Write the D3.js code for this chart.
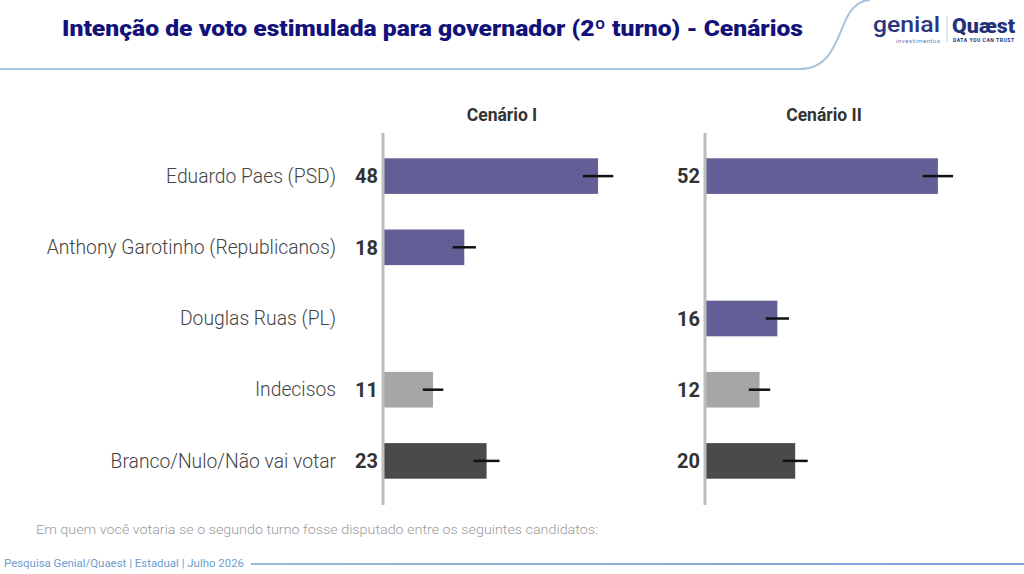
<!DOCTYPE html>
<html>
<head>
<meta charset="utf-8">
<script src="https://cdn.jsdelivr.net/npm/d3@7"></script>
<style>
  body { margin: 0; background: #fff; }
  svg { display: block; font-family: Roboto, sans-serif; }
</style>
</head>
<body>
<svg id="chart" width="1024" height="574"></svg>
<script>
// data
const categories = ['Eduardo Paes (PSD)', 'Anthony Garotinho (Republicanos)', 'Douglas Ruas (PL)', 'Indecisos', 'Branco/Nulo/Não vai votar'];
const barColors = ['#625e96', '#625e96', '#625e96', '#a6a6a6', '#4a4a4a'];
const scenarios = ['Cenário I', 'Cenário II'];
const valuesI = [48, 18, null, 11, 23];
const valuesII = [52, null, 16, 12, 20];
const errorsI = [3.4, 2.6, null, 2.3, 2.9];
const errorsII = [3.4, null, 2.6, 2.4, 2.8];

const svg = d3.select('#chart');

// header
svg.append('text')
  .attr('x', 62).attr('y', 36)
  .attr('font-size', 22).attr('font-weight', 900)
  .attr('fill', '#12127a')
  .attr('textLength', 741).attr('lengthAdjust', 'spacingAndGlyphs')
  .text('Intenção de voto estimulada para governador (2º turno) - Cenários');

svg.append('path')
  .attr('d', 'M0,69 L800,69 C835,69 838,30 850,12 C856,4 862,0 870,0')
  .attr('fill', 'none').attr('stroke', '#a8c2da').attr('stroke-width', 2);

// logo
const logo = svg.append('g');
logo.append('text').attr('x', 873).attr('y', 32)
  .attr('font-size', 22).attr('font-weight', 500).attr('fill', '#2a3680')
  .attr('textLength', 67).attr('lengthAdjust', 'spacingAndGlyphs').text('genial');
logo.append('text').attr('x', 896).attr('y', 43)
  .attr('font-size', 6).attr('fill', '#6a7bb0')
  .attr('textLength', 44).text('investimentos');
logo.append('line').attr('x1', 947).attr('x2', 947).attr('y1', 16).attr('y2', 42)
  .attr('stroke', '#c8cde0').attr('stroke-width', 1);
logo.append('text').attr('x', 952).attr('y', 33)
  .attr('font-size', 20).attr('font-weight', 900).attr('fill', '#23307a')
  .attr('textLength', 63).attr('lengthAdjust', 'spacingAndGlyphs').text('Quæst');
logo.append('text').attr('x', 953).attr('y', 42)
  .attr('font-size', 5).attr('font-weight', 700).attr('fill', '#23307a')
  .attr('textLength', 61).text('DATA YOU CAN TRUST');

// scales
const y = d3.scaleBand().domain(categories).range([140.5, 496.5]).paddingInner(0.5).paddingOuter(0.25);
const x = d3.scaleLinear().domain([0, 100]).range([0, 446]);

// category labels
svg.append('g').selectAll('text').data(categories).join('text')
  .attr('x', 336).attr('y', d => y(d) + y.bandwidth() / 2)
  .attr('dy', '0.35em').attr('text-anchor', 'end')
  .attr('font-size', 19.3).attr('font-weight', 300).attr('fill', '#444')
  .text(d => d);

const panels = [
  { name: scenarios[0], x0: 384, values: valuesI, errors: errorsI },
  { name: scenarios[1], x0: 706, values: valuesII, errors: errorsII }
];

panels.forEach(p => {
  const g = svg.append('g').attr('transform', `translate(${p.x0},0)`);
  const rows = categories.map((c, i) => ({ c, v: p.values[i], e: p.errors[i], color: barColors[i] }))
    .filter(d => d.v != null);

  g.append('text')
    .attr('x', 118).attr('y', 121)
    .attr('text-anchor', 'middle')
    .attr('font-size', 17.5).attr('font-weight', 700).attr('fill', '#333')
    .text(p.name);

  g.selectAll('rect').data(rows).join('rect')
    .attr('x', 0).attr('y', d => y(d.c))
    .attr('width', d => x(d.v)).attr('height', y.bandwidth())
    .attr('fill', d => d.color);

  g.selectAll('line.err').data(rows).join('line')
    .attr('class', 'err')
    .attr('x1', d => x(d.v - d.e)).attr('x2', d => x(d.v + d.e))
    .attr('y1', d => y(d.c) + y.bandwidth() / 2).attr('y2', d => y(d.c) + y.bandwidth() / 2)
    .attr('stroke', '#111').attr('stroke-width', 2.5);

  g.selectAll('text.val').data(rows).join('text')
    .attr('class', 'val')
    .attr('x', -6).attr('y', d => y(d.c) + y.bandwidth() / 2)
    .attr('dy', '0.36em').attr('text-anchor', 'end')
    .attr('font-size', 20).attr('font-weight', 700).attr('fill', '#333')
    .text(d => d.v);

  g.append('line')
    .attr('x1', -1).attr('x2', -1).attr('y1', 133).attr('y2', 505)
    .attr('stroke', '#bdbdbd').attr('stroke-width', 3);
});

// footer
svg.append('text').attr('x', 36).attr('y', 534)
  .attr('font-size', 13).attr('font-weight', 300).attr('fill', '#9a9a9a')
  .attr('textLength', 562).attr('lengthAdjust', 'spacingAndGlyphs')
  .text('Em quem você votaria se o segundo turno fosse disputado entre os seguintes candidatos:');

svg.append('text').attr('x', 4).attr('y', 567)
  .attr('font-size', 10.5).attr('fill', '#6d9ccc')
  .attr('textLength', 240).attr('lengthAdjust', 'spacingAndGlyphs')
  .text('Pesquisa Genial/Quaest | Estadual | Julho 2026');

const grad = svg.append('defs').append('linearGradient').attr('id', 'fl');
grad.append('stop').attr('offset', '0%').attr('stop-color', '#9ab9da');
grad.append('stop').attr('offset', '100%').attr('stop-color', '#7aa3d4');
svg.append('rect').attr('x', 251).attr('y', 563).attr('width', 773).attr('height', 2).attr('fill', 'url(#fl)');
</script>
</body>
</html>
